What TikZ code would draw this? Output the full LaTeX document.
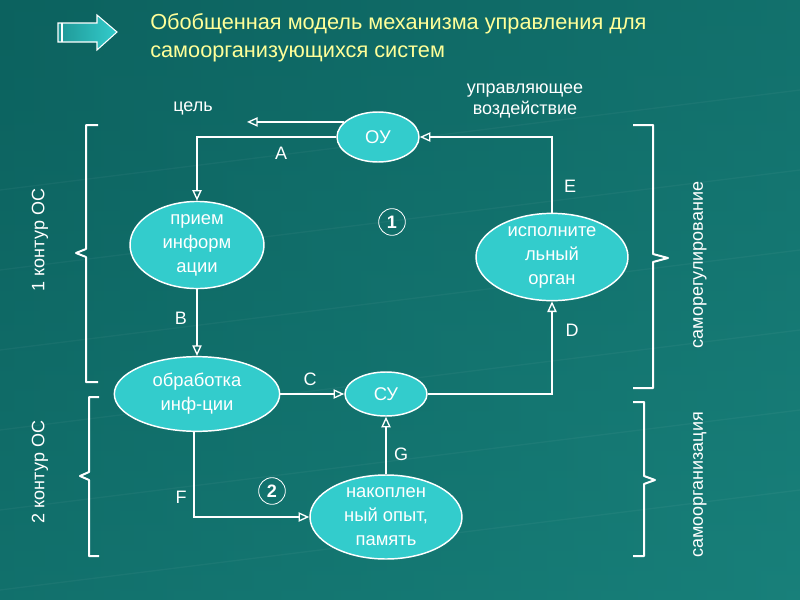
\documentclass[tikz,border=0pt]{standalone}
\usepackage{fontspec}
\setmainfont{Liberation Sans}
\usetikzlibrary{arrows.meta,shapes.geometric}
\definecolor{bgA}{RGB}{12,98,95}
\definecolor{bgB}{RGB}{24,128,122}
\definecolor{elfill}{RGB}{51,204,204}
\definecolor{ttl}{RGB}{255,255,153}
\tikzset{
  el/.style={ellipse,draw=white,line width=1.1pt,fill=elfill,text=white,align=center,inner sep=0pt,
    font=\fontsize{13.8}{18}\selectfont},
  conn/.style={draw=white,line width=1.5pt,-{Triangle[open,length=8pt,width=7pt,line width=1pt]}},
  lbl/.style={text=white,font=\fontsize{13.5}{16}\selectfont},
  brc/.style={draw=white,line width=1.5pt,line join=round},
  num/.style={circle,draw=white,line width=0.6pt,text=white,minimum size=20pt,inner sep=0pt,font=\bfseries\fontsize{13.5}{16}\selectfont}
}
\begin{document}
\begin{tikzpicture}[x=0.75pt,y=-0.75pt]
\useasboundingbox (0,0) rectangle (800,600);
\shade[top color=bgA,bottom color=bgB] (0,0) rectangle (800,600);
\shade[left color=bgA,right color=bgB,opacity=0.5] (0,0) rectangle (800,600);
% faint grid
\foreach \yy in {150,230,310,390,470,550}{
  \draw[white,opacity=0.04,line width=1pt] (0,\yy+40) -- (800,\yy-60);
}
% title icon
\shade[left color=bgA!50!elfill,right color=elfill,draw=white,line width=0.8pt]
  (58,23) -- (97,23) -- (97,15) -- (117,32) -- (97,50) -- (97,42) -- (58,42) -- cycle;
\draw[white,line width=0.8pt] (62,23) -- (62,42);
\node[text=ttl,align=left,anchor=north west,inner sep=0pt,font=\fontsize{16.3}{21}\selectfont] (title) at (150,13)
  {Обобщенная модель механизма управления для\\самоорганизующихся систем};

% nodes
\node[el,minimum width=61.5pt,minimum height=37.5pt] (OU) at (378,137) {ОУ};
\node[el,minimum width=100.5pt,minimum height=64.5pt] (priem) at (197,245) {прием\\информ\\ации};
\node[el,minimum width=114pt,minimum height=63pt] (isp) at (552,257) {исполните\\льный\\орган};
\node[el,minimum width=124pt,minimum height=56pt] (obr) at (197,394) {обработка\\инф-ции};
\node[el,minimum width=61.5pt,minimum height=33pt] (SU) at (386,394) {СУ};
\node[el,minimum width=114pt,minimum height=63pt] (nak) at (386,517) {накоплен\\ный опыт,\\память};

\node[lbl] (goal) at (193,108) {цель};
\coordinate (goalend) at (247,0);
\node[lbl,align=center,font=\fontsize{13.5}{16}\selectfont] (upr) at (525,101) {управляющее\\воздействие};

% connectors
\draw[conn] (OU.156) -- (OU.156 -| goalend);
\draw[conn] (OU.west) -| (priem.north);
\draw[conn] (isp.north) |- (OU.east);
\draw[conn] (priem.south) -- (obr.north);
\draw[conn] (obr.east) -- (SU.west);
\draw[conn] (SU.east) -| (isp.south);
\draw[conn] (obr.265) |- (nak.west);
\draw[conn] (nak.north) -- (SU.south);

% connector labels
\node[lbl] (lA) at (281,153) {A};
\node[lbl] (lB) at (181,318) {B};
\node[lbl] (lC) at (310,379) {C};
\node[lbl] (lD) at (572,330) {D};
\node[lbl] (lE) at (570,186) {E};
\node[lbl] (lF) at (181,497) {F};
\node[lbl] (lG) at (401,454) {G};

\node[num] (n1) at (392,222) {1};
\node[num] (n2) at (272,491) {2};

% braces
\draw[brc] (98,125) -- (86,125) -- (86,249) -- (76,253) -- (86,257) -- (86,382) -- (98,382);
\draw[brc] (99,397) -- (89,397) -- (89,472) -- (80,476) -- (89,480) -- (89,556) -- (99,556);
\draw[brc] (633,125) -- (653,125) -- (653,254) -- (668,258) -- (653,262) -- (653,388) -- (633,388);
\draw[brc] (633,402) -- (644,402) -- (644,476) -- (655,480) -- (644,484) -- (644,556) -- (633,556);

\node[lbl,rotate=90] (k1) at (40,240) {1 контур ОС};
\node[lbl,rotate=90] (k2) at (40,472) {2 контур ОС};
\node[lbl,rotate=90] (sr) at (700,265) {саморегулирование};
\node[lbl,rotate=90] (so) at (700,485) {самоорганизация};
\end{tikzpicture}
\end{document}
